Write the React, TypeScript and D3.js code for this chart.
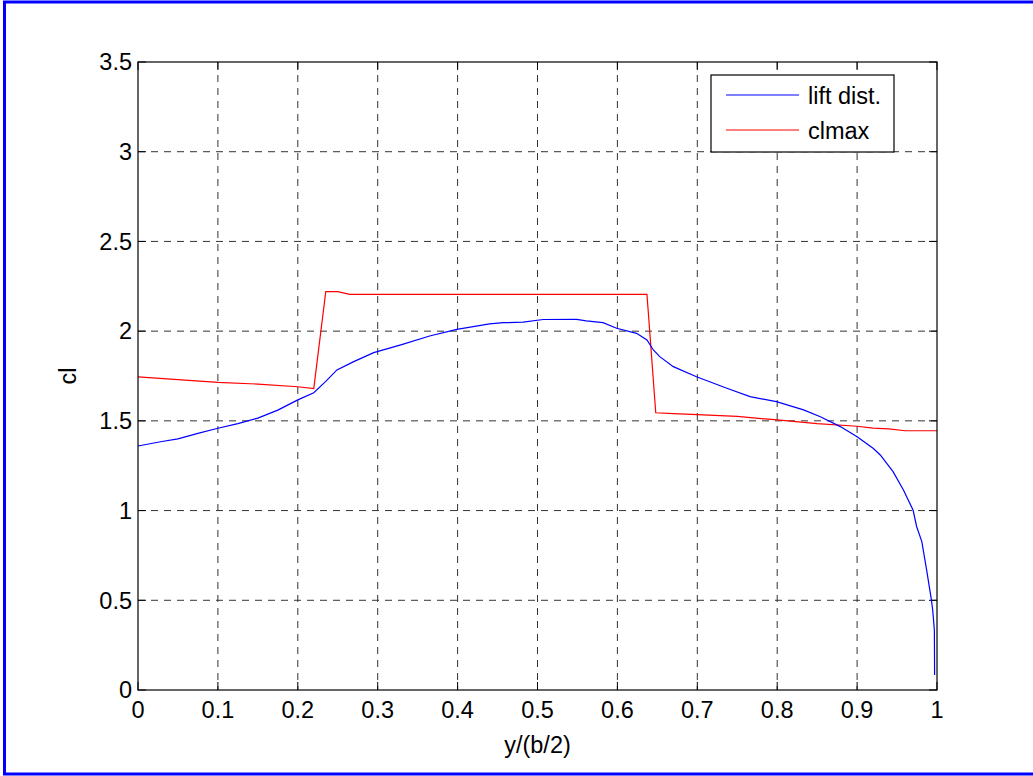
import React from "react";
import * as d3 from "d3";

// Spanwise position y/(b/2) and section lift coefficient
const liftX = [0, 0.03, 0.05, 0.075, 0.1, 0.125, 0.15, 0.175, 0.2, 0.22, 0.235, 0.249, 0.27, 0.295, 0.33, 0.365, 0.399, 0.44, 0.457, 0.482, 0.507, 0.549, 0.561, 0.582, 0.599, 0.624, 0.637, 0.645, 0.653, 0.67, 0.699, 0.737, 0.766, 0.799, 0.833, 0.854, 0.879, 0.9, 0.92, 0.929, 0.945, 0.958, 0.97, 0.9746, 0.981, 0.987, 0.993, 0.9946, 0.9967, 0.997];
const liftCl = [1.36, 1.385, 1.4, 1.43, 1.459, 1.485, 1.515, 1.56, 1.617, 1.657, 1.72, 1.784, 1.83, 1.88, 1.925, 1.973, 2.01, 2.04, 2.047, 2.05, 2.065, 2.066, 2.057, 2.047, 2.016, 1.988, 1.951, 1.895, 1.858, 1.802, 1.746, 1.682, 1.635, 1.607, 1.561, 1.523, 1.468, 1.412, 1.347, 1.31, 1.217, 1.115, 1.003, 0.91, 0.827, 0.669, 0.502, 0.446, 0.334, 0.084];

// Maximum section lift coefficient along the span
const clmaxX = [0, 0.05, 0.1, 0.15, 0.2, 0.22, 0.235, 0.25, 0.265, 0.4, 0.637, 0.648, 0.67, 0.7, 0.75, 0.8, 0.85, 0.9, 0.92, 0.94, 0.96, 1.0];
const clmaxCl = [1.745, 1.73, 1.715, 1.705, 1.69, 1.68, 2.22, 2.22, 2.205, 2.205, 2.205, 1.545, 1.54, 1.535, 1.525, 1.505, 1.485, 1.47, 1.46, 1.455, 1.445, 1.445];

const xTicks = [0, 0.1, 0.2, 0.3, 0.4, 0.5, 0.6, 0.7, 0.8, 0.9, 1];
const yTicks = [0, 0.5, 1, 1.5, 2, 2.5, 3, 3.5];
const legendLabels = ["lift dist.", "clmax"];

const W = 1033;
const H = 776;
const left = 138;
const right = 937;
const top = 62;
const bottom = 690;
const font = "'Liberation Sans', Arial, sans-serif";

export default function App() {
  const x = d3.scaleLinear().domain([0, 1]).range([left, right]);
  const y = d3.scaleLinear().domain([0, 3.5]).range([bottom, top]);
  const line = d3
    .line<[number, number]>()
    .x((d) => x(d[0]))
    .y((d) => y(d[1]));

  const liftPts = liftX.map((v, i) => [v, liftCl[i]] as [number, number]);
  const clmaxPts = clmaxX.map((v, i) => [v, clmaxCl[i]] as [number, number]);
  const tickLen = 8;
  const fs = 23.5;

  return (
    <svg
      width={W}
      height={H}
      style={{ position: "absolute", left: 0, top: 0 }}
      fontFamily={font}
    >
      <rect x={0} y={0} width={W} height={H} fill="#fff" />
      <rect x={4.5} y={2} width={W + 20} height={H - 4} fill="none" stroke="#0000ff" strokeWidth={3} />

      {/* grid */}
      {xTicks.slice(1, -1).map((t) => (
        <line key={"gx" + t} x1={x(t)} x2={x(t)} y1={top} y2={bottom} stroke="#333" strokeDasharray="7,6" strokeWidth={1} />
      ))}
      {yTicks.slice(1, -1).map((t) => (
        <line key={"gy" + t} x1={left} x2={right} y1={y(t)} y2={y(t)} stroke="#333" strokeDasharray="7,6" strokeWidth={1} />
      ))}

      {/* ticks */}
      {xTicks.map((t) => (
        <g key={"tx" + t}>
          <line x1={x(t)} x2={x(t)} y1={bottom} y2={bottom - tickLen} stroke="#000" />
          <line x1={x(t)} x2={x(t)} y1={top} y2={top + tickLen} stroke="#000" />
          <text x={x(t)} y={bottom + 27.5} textAnchor="middle" fontSize={fs}>
            {String(t)}
          </text>
        </g>
      ))}
      {yTicks.map((t) => (
        <g key={"ty" + t}>
          <line x1={left} x2={left + tickLen} y1={y(t)} y2={y(t)} stroke="#000" />
          <line x1={right} x2={right - tickLen} y1={y(t)} y2={y(t)} stroke="#000" />
          <text x={left - 6} y={y(t) + 8.3} textAnchor="end" fontSize={fs}>
            {String(t)}
          </text>
        </g>
      ))}

      {/* data */}
      <path d={line(clmaxPts) || ""} fill="none" stroke="#ff0000" strokeWidth={1.2} />
      <path d={line(liftPts) || ""} fill="none" stroke="#0000ff" strokeWidth={1.2} />

      {/* axes box */}
      <rect x={left} y={top} width={right - left} height={bottom - top} fill="none" stroke="#000" strokeWidth={1.2} />

      {/* axis labels */}
      <text x={(left + right) / 2} y={753} textAnchor="middle" fontSize={fs}>
        y/(b/2)
      </text>
      <text transform={`translate(76, ${(top + bottom) / 2}) rotate(-90)`} textAnchor="middle" fontSize={fs}>
        cl
      </text>

      {/* legend */}
      <g>
        <rect x={711} y={75} width={183} height={77} fill="#fff" stroke="#000" strokeWidth={1.2} />
        {legendLabels.map((lab, i) => (
          <g key={lab}>
            <line x1={726} x2={799} y1={95 + i * 35} y2={95 + i * 35} stroke={i === 0 ? "#0000ff" : "#ff0000"} strokeWidth={1.2} />
            <text x={808} y={95 + i * 35 + 8.5} fontSize={fs}>
              {lab}
            </text>
          </g>
        ))}
      </g>
    </svg>
  );
}
